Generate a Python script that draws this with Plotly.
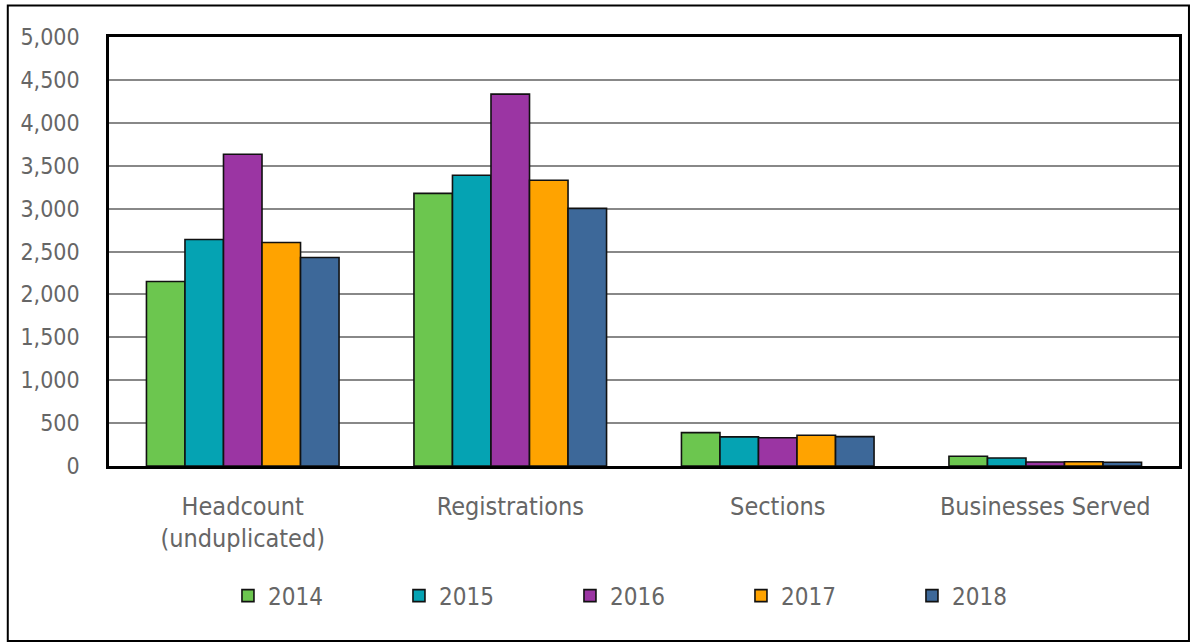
import plotly.graph_objects as go

categories = ["Headcount<br>(unduplicated)", "Registrations", "Sections", "Businesses Served"]
years = ["2014", "2015", "2016", "2017", "2018"]
values_2014 = [2150, 3178, 389, 113]
values_2015 = [2640, 3388, 339, 93]
values_2016 = [3633, 4334, 330, 47]
values_2017 = [2605, 3330, 358, 50]
values_2018 = [2430, 3003, 342, 43]
series = [values_2014, values_2015, values_2016, values_2017, values_2018]
colors = ["#6CC64F", "#05A3B3", "#9B35A3", "#FFA300", "#3D6899"]
y_ticks = [0, 500, 1000, 1500, 2000, 2500, 3000, 3500, 4000, 4500, 5000]

FONT = "DejaVu Sans Condensed, Liberation Sans Narrow, sans-serif"
GREY = "#666666"

fig = go.Figure()
for yr, vals, col in zip(years, series, colors):
    fig.add_trace(go.Bar(
        x=categories, y=vals, name=yr,
        marker=dict(color=col, line=dict(color="#111111", width=1.6)),
    ))

W, H = 1194, 643
ml, mr, mt, mb = 109, 12, 37, 177
pw, ph = W - ml - mr, H - mt - mb

def px_x(p):
    return (p - ml) / pw

def px_y(p):
    return 1 - (p - mt) / ph

fig.update_layout(
    width=W, height=H,
    margin=dict(l=ml, r=mr, t=mt, b=mb),
    barmode="group", bargap=0.28, bargroupgap=0,
    paper_bgcolor="white", plot_bgcolor="white",
    font=dict(family=FONT, size=24, color=GREY),
    showlegend=True,
    legend=dict(
        orientation="h", x=px_x(657), xanchor="center", y=px_y(596), yanchor="middle",
        entrywidth=126, entrywidthmode="pixels", itemwidth=30,
        font=dict(family=FONT, size=24, color=GREY),
        traceorder="normal",
    ),
    shapes=[dict(
        type="rect", xref="paper", yref="paper",
        x0=px_x(7.5), x1=px_x(1192), y0=px_y(641), y1=px_y(5.5),
        line=dict(color="black", width=2), fillcolor="rgba(0,0,0,0)", layer="below",
    )],
)
fig.update_xaxes(
    showline=True, linecolor="black", linewidth=2.5, mirror=True,
    ticks="", tickfont=dict(family=FONT, size=25, color=GREY),
    ticklabelstandoff=16,
)
fig.update_yaxes(
    range=[0, 5000], tickvals=y_ticks, tickformat=",d",
    showgrid=True, gridcolor="#888888", gridwidth=1.5,
    showline=True, linecolor="black", linewidth=2.5, mirror=True,
    zeroline=False, ticks="",
    tickfont=dict(family=FONT, size=23, color=GREY),
    ticklabelstandoff=22,
)

fig.write_html("out.html", config={"displayModeBar": False},
               post_script="document.body.style.margin='0';document.body.style.padding='0';")
